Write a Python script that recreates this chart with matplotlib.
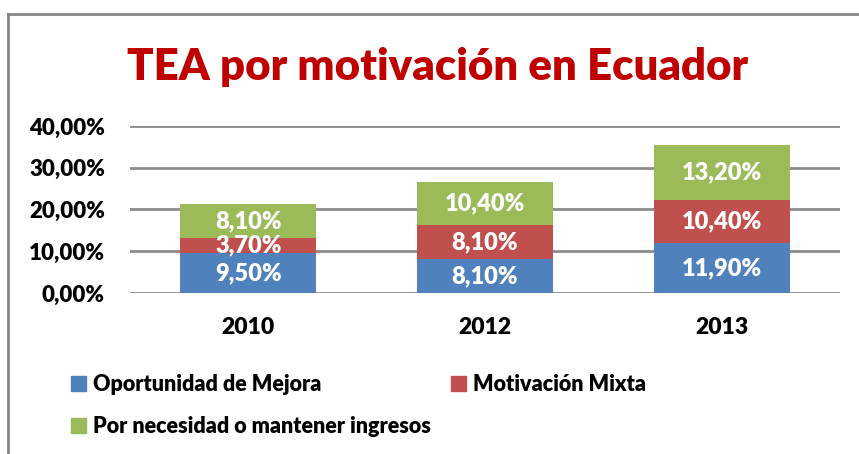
import matplotlib
matplotlib.use("Agg")
import matplotlib.pyplot as plt
import numpy as np
from matplotlib.lines import Line2D
from matplotlib.patches import Patch

plt.rcParams['font.family'] = ['Lato', 'DejaVu Sans']

years = ["2010", "2012", "2013"]
oportunidad = [9.5, 8.1, 11.9]
mixta = [3.7, 8.1, 10.4]
necesidad = [8.1, 10.4, 13.2]
series_names = ["Oportunidad de Mejora", "Motivación Mixta", "Por necesidad o mantener ingresos"]
colors = ["#4F81BD", "#C0504D", "#9BBB59"]
yticks = [0, 10, 20, 30, 40]

WT = "heavy"

fig = plt.figure(figsize=(8.59, 4.54), dpi=100)
ax = fig.add_axes([130/859, 1-293/454, 710/859, (293-126)/454])

x = np.arange(len(years))
w = 0.575
bottom = np.zeros(len(years))
for vals, c in zip([oportunidad, mixta, necesidad], colors):
    ax.bar(x, vals, w, bottom=bottom, color=c, zorder=3)
    for xi, b, v in zip(x, bottom, vals):
        ax.text(xi, b + v/2, f"{v:.2f}".replace(".", ",") + "%", ha="center", va="center",
                color="white", fontsize=17, fontweight=WT, zorder=4)
    bottom += np.array(vals)

ax.set_xlim(-0.5, 2.5)
ax.set_ylim(0, 40)
ax.set_yticks(yticks)
ax.set_yticklabels([f"{t:.2f}".replace(".", ",") + "%" for t in yticks], fontsize=16, fontweight=WT)
ax.set_xticks(x)
ax.set_xticklabels(years, fontsize=16.5, fontweight=WT)
ax.tick_params(axis="y", length=0, pad=18)
ax.tick_params(axis="x", length=0, pad=17)
ax.yaxis.grid(True, color="#8C8C8C", linewidth=2, zorder=0)
for s in ax.spines.values():
    s.set_visible(False)

fig.text(438/859, 1-67/454, "TEA por motivación en Ecuador", ha="center", va="center",
         color="#C00000", fontsize=31.5, fontweight=WT)

handles = [Patch(color=colors[0]), Patch(color=colors[2]), Patch(color=colors[1])]
labels = [series_names[0], series_names[2], series_names[1]]
fig.legend(handles, labels, ncol=2, loc="upper left", bbox_to_anchor=(52/859, 1-355/454),
           frameon=False, prop={"size": 15.5, "weight": WT}, handlelength=0.7, handleheight=0.7,
           handletextpad=0.3, columnspacing=0.95, labelspacing=0.95)

fig.add_artist(Line2D([8/859, 8/859], [0, 1-14/454], color="#868686", lw=2))
fig.add_artist(Line2D([8/859, 1], [1-14/454, 1-14/454], color="#868686", lw=2))

fig.savefig("out.png", dpi=100)
